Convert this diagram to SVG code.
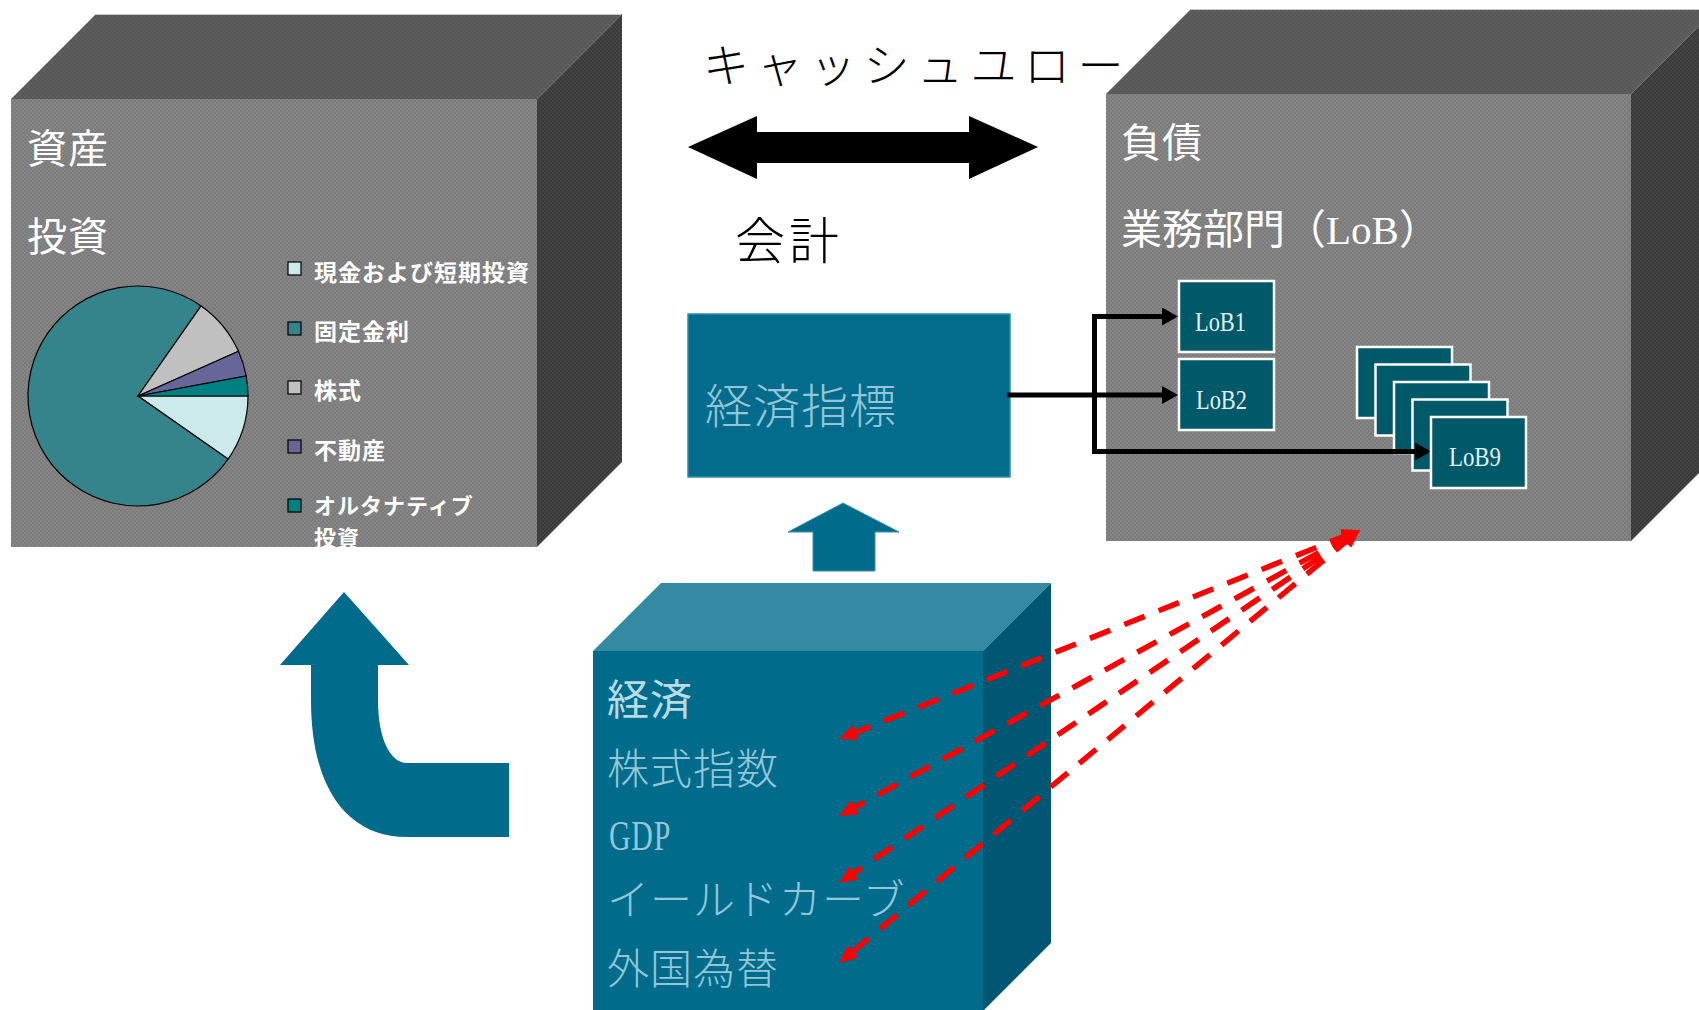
<svg xmlns="http://www.w3.org/2000/svg" width="1699" height="1010" viewBox="0 0 1699 1010">
<style>
.cjk{font-family:"Noto Sans CJK JP","Noto Sans",sans-serif}
.ser{font-family:"Liberation Serif","Noto Sans CJK JP",serif}
.wt{fill:#ffffff}
.lg{font-family:"Noto Sans CJK JP",sans-serif;font-weight:bold;font-size:23px;fill:#ffffff;letter-spacing:1px}
.lb{fill:#005968;stroke:#ffffff;stroke-width:2.5}
.lbt{font-family:"Liberation Serif",serif;font-size:27px;fill:#e2f1f4}
.bt{font-family:"Liberation Serif","Noto Sans CJK JP",serif;font-size:42px;fill:#93c6d6;letter-spacing:1px;font-weight:300}
.blk{stroke:#000;stroke-width:5;fill:none;stroke-linejoin:miter}
.red{stroke:#ff0000;stroke-width:5.5;fill:none;stroke-dasharray:22 15}
.pie{stroke:#000;stroke-width:1.2}
.sq{stroke:#000;stroke-width:1.2}
</style>
<defs>
<pattern id="chkF" width="4" height="4" patternUnits="userSpaceOnUse">
<rect width="4" height="4" fill="#7b7b7b"/><rect width="2" height="2" fill="#868686"/><rect x="2" y="2" width="2" height="2" fill="#868686"/>
</pattern>
<pattern id="chkT" width="4" height="4" patternUnits="userSpaceOnUse">
<rect width="4" height="4" fill="#575757"/><rect width="2" height="2" fill="#5e5e5e"/><rect x="2" y="2" width="2" height="2" fill="#5e5e5e"/>
</pattern>
<pattern id="chkR" width="4" height="4" patternUnits="userSpaceOnUse">
<rect width="4" height="4" fill="#3a3a3a"/><rect width="2" height="2" fill="#444444"/><rect x="2" y="2" width="2" height="2" fill="#444444"/>
</pattern>
<marker id="blkArrow" viewBox="0 0 16 18" refX="8" refY="9" markerWidth="16" markerHeight="18" markerUnits="userSpaceOnUse" orient="auto">
<path d="M0,0 L16,9 L0,18 Z" fill="#000"/>
</marker>
<marker id="redArrow" viewBox="0 0 18 16" refX="8" refY="8" markerWidth="18" markerHeight="16" markerUnits="userSpaceOnUse" orient="auto-start-reverse">
<path d="M0,0 L18,8 L0,16 Z" fill="#ff0000"/>
</marker>
</defs>

<g id="assets-cube">
<polygon points="11,99 96,14 622,14 537,99" fill="url(#chkT)"/>
<line x1="96" y1="14.5" x2="622" y2="14.5" stroke="#c8c8c8" stroke-width="1"/>
<polygon points="537,99 622,14 622,462 537,547" fill="url(#chkR)"/>
<rect x="11" y="99" width="526" height="448" fill="url(#chkF)"/>
<text class="cjk wt" x="27" y="163" font-size="40" letter-spacing="1">資産</text>
<text class="cjk wt" x="27" y="251" font-size="40" letter-spacing="1">投資</text>
</g>

<g id="pie-chart">
<path class="pie" fill="#cceaec" d="M138,396 L248,396 A110,110 0 0 1 228.1,459.1 Z"/>
<path class="pie" fill="#35838b" d="M138,396 L228.1,459.1 A110,110 0 1 1 201.1,305.9 Z"/>
<path class="pie" fill="#c0c0c0" d="M138,396 L201.1,305.9 A110,110 0 0 1 238.5,351.3 Z"/>
<path class="pie" fill="#666699" d="M138,396 L238.5,351.3 A110,110 0 0 1 246.2,376 Z"/>
<path class="pie" fill="#008080" d="M138,396 L246.2,376 A110,110 0 0 1 248,396 Z"/>
</g>

<g id="legend">
<rect class="sq" x="288" y="262" width="13" height="13" fill="#cceaec"/>
<text class="lg" x="314" y="281">現金および短期投資</text>
<rect class="sq" x="288" y="322" width="13" height="13" fill="#35838b"/>
<text class="lg" x="314" y="340">固定金利</text>
<rect class="sq" x="288" y="381" width="13" height="13" fill="#c0c0c0"/>
<text class="lg" x="314" y="399">株式</text>
<rect class="sq" x="288" y="440" width="13" height="13" fill="#666699"/>
<text class="lg" x="314" y="459">不動産</text>
<rect class="sq" x="288" y="499" width="13" height="13" fill="#008080"/>
<text class="lg" x="314" y="514" style="font-size:22px">オルタナティブ</text>
<text class="lg" x="314" y="546" style="font-size:22px">投資</text>
</g>

<g id="cashflow-arrow">
<text class="cjk" x="703" y="82" font-size="46" font-weight="300" letter-spacing="7.5" fill="#000">キャッシュユロー</text>
<polygon points="688,147 757,116 757,132 969,132 969,116 1038,147 969,179 969,163 757,163 757,179" fill="#000"/>
<text class="cjk" x="735" y="259" font-size="50" font-weight="300" letter-spacing="4" fill="#000">会計</text>
</g>

<g id="liabilities-cube">
<polygon points="1106,94 1191,9 1716,9 1631,94" fill="url(#chkT)"/>
<line x1="1191" y1="9.5" x2="1716" y2="9.5" stroke="#c8c8c8" stroke-width="1"/>
<polygon points="1631,94 1716,9 1716,456 1631,541" fill="url(#chkR)"/>
<rect x="1106" y="94" width="525" height="447" fill="url(#chkF)"/>
<text class="cjk wt" x="1121" y="157" font-size="40" letter-spacing="1">負債</text>
<text class="ser wt" x="1121" y="244" font-size="41">業務部門（LoB）</text>
</g>

<g id="econ-indicator">
<rect x="688" y="314" width="322" height="163" fill="#036b8b" stroke="#2f8fab" stroke-width="1.5"/>
<text class="cjk" x="705" y="423" font-size="47" font-weight="300" letter-spacing="1" fill="#93c6d6">経済指標</text>
</g>

<g id="lob1">
<rect class="lb" x="1179" y="281" width="95" height="71"/>
<text class="lbt" x="1195" y="331" textLength="51" lengthAdjust="spacingAndGlyphs">LoB1</text>
</g>
<g id="lob2">
<rect class="lb" x="1179" y="359" width="95" height="71"/>
<text class="lbt" x="1196" y="409" textLength="51" lengthAdjust="spacingAndGlyphs">LoB2</text>
</g>
<g id="lob-stack">
<rect class="lb" x="1357" y="347" width="95" height="71"/>
<rect class="lb" x="1375.5" y="364.5" width="95" height="71"/>
<rect class="lb" x="1394" y="382" width="95" height="71"/>
<rect class="lb" x="1412.5" y="399.5" width="95" height="71"/>
</g>

<g id="economy-cube">
<polygon points="593,651 661,583 1051,583 983,651" fill="#3589a2"/>
<polygon points="983,651 1051,583 1051,943 983,1011" fill="#005773"/>
<rect x="593" y="651" width="390" height="370" fill="#006b8b"/>
<text class="bt" x="607" y="715" style="fill:#b8dbe5;font-weight:normal">経済</text>
<text class="bt" x="607" y="784">株式指数</text>
<text class="bt" x="609" y="850" font-size="40" textLength="62" lengthAdjust="spacingAndGlyphs">GDP</text>
<text class="bt" x="607" y="915">イールドカーブ</text>
<text class="bt" x="607" y="984">外国為替</text>
</g>

<g id="up-arrow">
<polygon points="843,503 899,532 875,532 875,571 813,571 813,532 788,532" fill="#006b8b" stroke="#3a90aa" stroke-width="1"/>
</g>

<g id="curved-arrow">
<path d="M344,592 L409,665 L378,665 L378,700 C378,738 390,763 407,763 L509,763 L509,837 L407,837 C345,837 311,785 311,700 L311,665 L280,665 Z" fill="#006b8b"/>
</g>

<g id="connectors">
<path class="blk" d="M1007,395 H1170" marker-end="url(#blkArrow)"/>
<path class="blk" d="M1094.5,395 V316.5 H1170" marker-end="url(#blkArrow)"/>
<path class="blk" d="M1094.5,395 V451.5 H1423" marker-end="url(#blkArrow)"/>
<path class="red" d="M1350.7,533.7 L848.3,735.3" marker-start="url(#redArrow)" marker-end="url(#redArrow)"/>
<path class="red" d="M1351.2,534.8 L847.8,811.2" marker-start="url(#redArrow)" marker-end="url(#redArrow)"/>
<path class="red" d="M1351.7,535.6 L847.3,877.4" marker-start="url(#redArrow)" marker-end="url(#redArrow)"/>
<path class="red" d="M1352.3,536.4 L846.7,956.6" marker-start="url(#redArrow)" marker-end="url(#redArrow)"/>
</g>

<g id="lob9">
<rect class="lb" x="1431" y="417" width="95" height="71"/>
<text class="lbt" x="1449" y="466" textLength="52" lengthAdjust="spacingAndGlyphs">LoB9</text>
</g>
</svg>
